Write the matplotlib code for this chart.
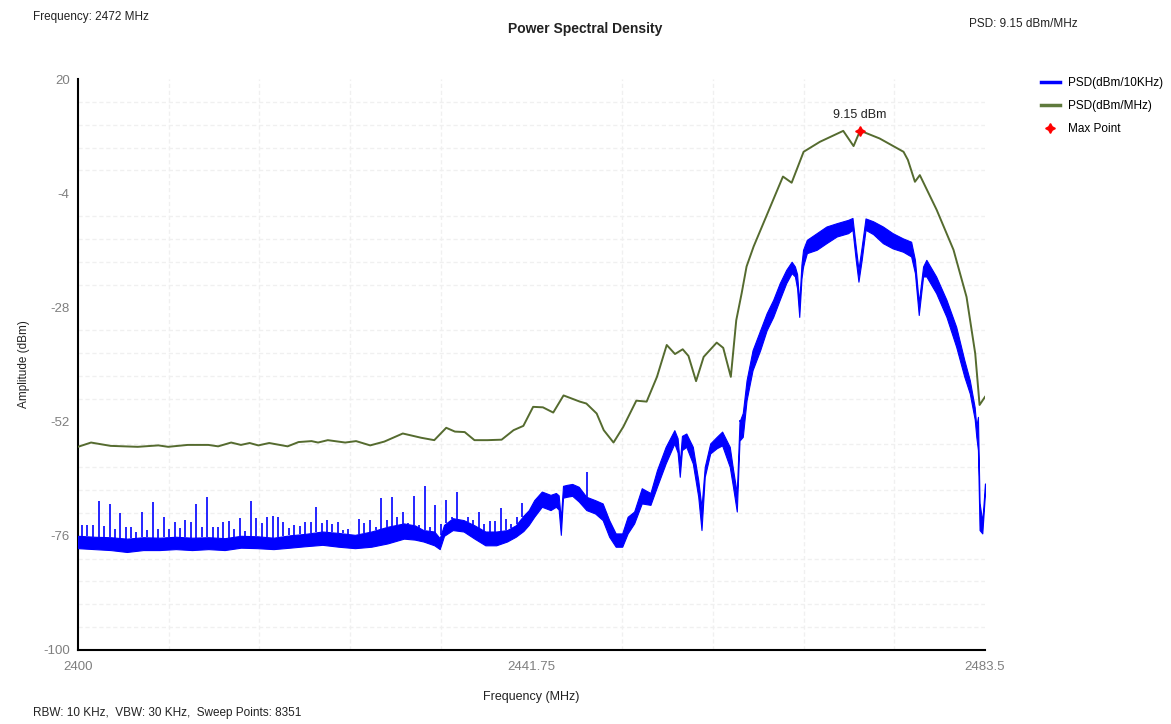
import numpy as np
import matplotlib
matplotlib.use("Agg")
import matplotlib.pyplot as plt
from matplotlib.lines import Line2D

plt.rcParams['font.family'] = ['Liberation Sans', 'DejaVu Sans']
plt.rcParams['axes.unicode_minus'] = False

# ---------------- data ----------------
# PSD (dBm/MHz) - smooth olive trace
green_f = [2400.0, 2401.2, 2403.0, 2405.5, 2407.4, 2408.3, 2410.1, 2412.0, 2412.9, 2414.1,
           2415.0, 2415.8, 2416.6, 2417.6, 2419.3, 2420.3, 2421.5, 2422.1, 2423.0, 2424.6,
           2425.6, 2426.9, 2428.2, 2429.9, 2431.6, 2432.8, 2433.9, 2434.7, 2435.6, 2436.5,
           2437.7, 2439.0, 2440.1, 2441.0, 2441.9, 2442.8, 2443.75, 2444.7, 2446.2, 2446.8,
           2447.75, 2448.4, 2449.3, 2450.2, 2451.4, 2452.35, 2453.3, 2454.2, 2454.96, 2455.67,
           2456.2, 2456.9, 2457.6, 2458.8, 2459.4, 2460.1, 2460.6, 2461.1, 2461.55, 2462.2,
           2463.1, 2464.0, 2464.9, 2465.7, 2466.8, 2468.3, 2470.45, 2471.4, 2472.0, 2473.8,
           2476.0, 2476.4, 2477.05, 2477.5, 2479.05, 2480.6, 2481.8, 2482.6, 2483.0, 2483.5]
green_v = [-57.3, -56.4, -57.1, -57.3, -57.0, -57.3, -56.9, -56.9, -57.2, -56.4,
           -56.9, -56.5, -57.0, -56.5, -57.2, -56.3, -56.1, -56.4, -55.9, -56.4,
           -56.1, -57.0, -56.2, -54.5, -55.4, -55.9, -53.3, -54.1, -54.2, -55.9,
           -55.9, -55.8, -53.8, -52.9, -48.9, -49.0, -50.1, -46.5, -47.8, -48.2,
           -50.3, -53.8, -56.4, -53.1, -47.6, -47.8, -42.6, -35.9, -37.8, -36.8,
           -38.2, -43.5, -38.4, -35.4, -36.5, -42.6, -30.7, -25.0, -19.4, -15.2,
           -10.3, -5.4, -0.5, -1.8, 4.7, 6.8, 9.1, 5.9, 9.15, 7.5,
           4.7, 3.0, -1.6, -0.2, -7.5, -15.9, -25.8, -37.7, -48.5, -46.8]

# PSD (dBm/10KHz) - noisy blue trace: frequency, lower and upper edge of the noise band
blue_f = [2400.0, 2401.5, 2403.0, 2404.5, 2406.0, 2407.5, 2409.0, 2410.5, 2412.0, 2413.5,
          2415.0, 2416.5, 2418.0, 2419.5, 2420.9, 2422.5, 2424.0, 2425.5, 2427.0, 2428.5,
          2430.0, 2431.0, 2431.8, 2432.8, 2433.3, 2433.7, 2434.5, 2435.5, 2436.5, 2437.5,
          2438.5, 2439.5, 2440.3, 2441.0, 2441.5, 2442.0, 2442.7, 2443.5, 2444.0, 2444.25,
          2444.45, 2444.65, 2445.0, 2445.5, 2446.1, 2446.8, 2447.6, 2448.3, 2448.9, 2449.5,
          2450.1, 2450.6, 2451.2, 2451.9, 2452.7, 2453.3, 2454.1, 2454.9, 2455.2, 2455.4,
          2455.6, 2456.0, 2456.6, 2457.1, 2457.4, 2457.7, 2458.2, 2458.8, 2459.3, 2460.0,
          2460.3, 2460.65, 2460.9, 2461.2, 2461.55, 2462.1, 2462.8, 2463.4, 2464.0, 2464.6,
          2465.2, 2465.7, 2466.0, 2466.2, 2466.4, 2466.6, 2466.75, 2467.1, 2468.0, 2468.9,
          2469.85, 2470.9, 2471.3, 2471.6, 2471.85, 2472.15, 2472.5, 2473.2, 2474.1, 2475.0,
          2475.95, 2476.7, 2477.05, 2477.4, 2477.8, 2478.1, 2479.0, 2479.95, 2480.85, 2481.6,
          2482.1, 2482.55, 2482.7, 2482.85, 2483.0, 2483.25, 2483.5]
blue_lo = [-78.6, -78.8, -79.0, -79.4, -79.0, -79.0, -78.8, -79.0, -78.8, -79.0,
           -78.5, -78.6, -78.8, -78.5, -78.2, -77.9, -78.3, -78.6, -78.3, -77.6,
           -76.6, -76.8, -77.2, -78.0, -78.8, -76.0, -74.8, -75.1, -76.6, -78.0,
           -78.0, -77.2, -76.2, -75.0, -73.7, -72.0, -69.9, -70.6, -69.9, -70.5,
           -75.8, -68.0, -67.8, -67.6, -68.8, -70.6, -71.3, -72.7, -76.2, -78.3,
           -78.3, -75.5, -73.4, -69.2, -69.5, -65.7, -60.8, -56.6, -58.5, -63.6,
           -58.0, -57.3, -60.8, -67.8, -74.8, -63.6, -58.7, -57.6, -57.0, -61.5,
           -65.7, -70.9, -56.0, -55.2, -47.5, -41.2, -37.0, -32.8, -30.0, -26.4,
           -22.9, -20.8, -21.5, -24.0, -30.0, -22.0, -19.4, -16.6, -15.9, -14.5,
           -13.1, -12.4, -11.7, -18.0, -22.6, -18.0, -11.7, -12.6, -14.5, -15.6,
           -16.3, -17.3, -20.8, -29.6, -21.5, -21.5, -25.0, -30.0, -36.3, -42.6,
           -46.1, -51.5, -55.2, -58.0, -74.8, -75.5, -67.0]
blue_hi = [-76.0, -76.2, -76.3, -76.6, -76.3, -76.4, -76.2, -76.4, -76.3, -76.5,
           -76.0, -76.1, -76.4, -75.9, -75.6, -75.1, -75.4, -75.8, -75.1, -74.1,
           -73.4, -73.8, -74.8, -75.1, -76.5, -73.7, -72.3, -72.7, -73.8, -75.1,
           -75.1, -74.8, -73.8, -71.8, -70.6, -68.5, -66.7, -67.4, -67.0, -67.5,
           -72.5, -65.5, -65.3, -65.1, -65.7, -67.8, -68.5, -69.2, -72.7, -75.5,
           -75.5, -72.0, -70.9, -66.0, -67.0, -62.2, -57.3, -53.8, -55.5, -60.8,
           -55.0, -54.5, -57.3, -64.3, -70.0, -61.5, -56.6, -55.2, -54.1, -57.3,
           -62.0, -67.0, -52.0, -50.2, -43.3, -37.0, -32.8, -29.2, -26.4, -22.9,
           -20.1, -18.4, -19.4, -21.0, -27.0, -19.0, -15.9, -13.8, -12.4, -11.0,
           -10.3, -9.6, -9.2, -15.2, -20.0, -15.2, -9.3, -9.9, -11.0, -12.4,
           -13.5, -14.2, -18.0, -27.0, -19.4, -18.0, -21.5, -26.4, -32.1, -39.1,
           -43.3, -49.0, -53.0, -51.0, -69.1, -73.0, -65.0]

# narrow spurious spikes on the blue trace (frequency, peak value)
spike_f = [2400.37, 2400.86, 2401.38, 2401.91, 2402.39, 2402.92, 2403.38, 2403.89, 2404.39, 2404.85,
           2405.37, 2405.89, 2406.38, 2406.88, 2407.37, 2407.89, 2408.38, 2408.90, 2409.39, 2409.88,
           2410.38, 2410.89, 2411.42, 2411.90, 2412.43, 2412.89, 2413.38, 2413.90, 2414.39, 2414.91,
           2415.40, 2415.93, 2416.42, 2416.91, 2417.43, 2417.93, 2418.41, 2418.90, 2419.43, 2419.91,
           2420.41, 2420.88, 2421.42, 2421.91, 2422.44, 2422.89, 2423.41, 2423.91, 2424.37, 2424.89,
           2425.83, 2426.36, 2426.88, 2427.44, 2427.90, 2428.42, 2428.91, 2429.40, 2429.89, 2430.41,
           2430.93, 2431.42, 2431.92, 2432.41, 2432.90, 2433.39, 2433.88, 2434.40, 2434.89, 2435.38,
           2435.91, 2436.39, 2436.92, 2437.41, 2437.90, 2438.39, 2438.92, 2439.40, 2439.89, 2440.39,
           2440.88, 2446.85, 2460.9, 2482.85]
spike_v = [-73.7, -73.8, -73.7, -68.7, -73.9, -69.4, -74.6, -71.2, -74.2, -74.1,
           -75.3, -71.1, -74.7, -68.8, -74.6, -72.1, -74.6, -73.0, -74.3, -72.7,
           -73.0, -69.3, -74.1, -67.8, -74.2, -74.2, -73.0, -72.9, -74.6, -72.2,
           -74.9, -68.7, -72.3, -73.3, -72.1, -71.9, -72.1, -73.0, -74.4, -73.7,
           -73.9, -73.2, -73.0, -70.0, -73.3, -72.7, -73.6, -73.0, -74.8, -74.5,
           -72.4, -73.3, -72.6, -74.1, -68.0, -72.7, -67.8, -72.0, -70.9, -73.3,
           -67.6, -73.8, -65.5, -74.1, -69.5, -73.5, -68.5, -72.0, -66.9, -72.6,
           -72.0, -72.7, -70.9, -73.5, -72.8, -72.8, -70.2, -72.4, -73.5, -72.0,
           -69.2, -62.5, -51.7, -51.0]

max_f = 2472.0
max_v = 9.15

x_ticks = [2400, 2441.75, 2483.5]
x_tick_labels = ["2400", "2441.75", "2483.5"]
y_ticks = [20, -4, -28, -52, -76, -100]

# ---------------- figure ----------------
fig = plt.figure(figsize=(11.71, 7.24), dpi=100)
ax = fig.add_axes([78/1171, 74/724, 907/1171, 571/724])

blue = '#0000FF'
olive = '#556B2F'

# blue noise band
ax.fill_between(blue_f, blue_lo, blue_hi, color=blue, lw=0.8, edgecolor=blue, zorder=3)
base = np.interp(spike_f, blue_f, blue_hi)
ax.vlines(spike_f, base, spike_v, color=blue, lw=1.2, zorder=3)

# olive smooth trace
ax.plot(green_f, green_v, color=olive, lw=1.4, zorder=4)

# max point
ax.plot([max_f], [max_v], marker=(4, 1, 0), color='red', ms=7, ls='none', zorder=5)
ax.annotate(f"{max_v:.2f} dBm", (max_f, max_v), xytext=(0, 7), textcoords='offset points',
            ha='center', va='bottom', fontsize=9, color='#222222')

ax.set_xlim(2400, 2483.5)
ax.set_ylim(-100, 20)

# grid
ax.set_xticks(np.linspace(2400, 2483.5, 11), minor=True)
ax.set_yticks(np.linspace(-100, 20, 26), minor=True)
ax.grid(which='minor', color='#f0f0f0', ls=(0, (3, 2)), lw=1.0)
ax.set_axisbelow(True)
ax.set_xticks(x_ticks)
ax.set_xticklabels(x_tick_labels)
ax.set_yticks(y_ticks)
ax.tick_params(which='both', length=0, labelsize=9.5, colors='#7f7f7f', pad=6)
ax.tick_params(axis='x', pad=8)

for s in ['top', 'right']:
    ax.spines[s].set_visible(False)
for s in ['left', 'bottom']:
    ax.spines[s].set_color('black')
    ax.spines[s].set_linewidth(1.5)

ax.set_xlabel("Frequency (MHz)", fontsize=9, color='#222222', labelpad=13)
ax.set_ylabel("Amplitude (dBm)", fontsize=8.5, color='#222222', labelpad=9)

# legend outside
handles = [Line2D([], [], color=blue, lw=2.5),
           Line2D([], [], color='#5f7a3d', lw=2.5),
           Line2D([], [], marker=(4, 1, 0), color='red', ls='none', ms=7)]
labels = ["PSD(dBm/10KHz)", "PSD(dBm/MHz)", "Max Point"]
fig.legend(handles, labels, loc='upper left', bbox_to_anchor=(1036/1171, 1 - 72/724),
           frameon=False, fontsize=8.5, handlelength=1.6, labelspacing=0.95, handletextpad=0.75,
           borderaxespad=0.0)

# header / footer texts
fig.text(33/1171, 1 - 17/724, "Frequency: 2472 MHz", fontsize=8.5, va='center', ha='left', color='#222222')
fig.text(585/1171, 1 - 29/724, "Power Spectral Density", fontsize=10, fontweight='bold', va='center', ha='center', color='#222222')
fig.text(1078/1171, 1 - 24/724, "PSD: 9.15 dBm/MHz", fontsize=8.5, va='center', ha='right', color='#222222')
fig.text(33/1171, 1 - 713/724, "RBW: 10 KHz,  VBW: 30 KHz,  Sweep Points: 8351", fontsize=8.5, va='center', ha='left', color='#222222')

fig.savefig("out.png", dpi=100)
